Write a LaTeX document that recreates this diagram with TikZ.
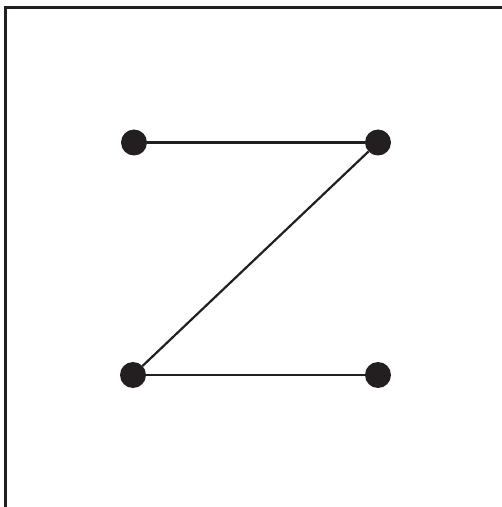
\documentclass[tikz,border=0pt]{standalone}
\usepackage{tikz}
\usetikzlibrary{positioning}
\definecolor{inkcolor}{RGB}{35,31,32}

\begin{document}
\begin{tikzpicture}[x=1pt, y=1pt,
    dot/.style={circle, fill=inkcolor, inner sep=0pt, minimum size=26pt},
    link/.style={line width=2.2pt, inkcolor}]
    \useasboundingbox (0,0) rectangle (502,507);

    % Frame (top and left edges)
    \draw[line width=3pt, inkcolor] (5.5,0) -- (5.5,499) -- (502,499);

    % Dots
    \node[dot] (topleft) at (134,364.5) {};
    \node[dot] (topright) at (378,364.5) {};
    \node[dot] (botleft) at (133,132) {};
    \node[dot] (botright) at (378,132) {};

    % Connecting lines
    \draw[link] (topleft) -- (topright);
    \draw[link] (topright) -- (botleft);
    \draw[link] (botleft) -- (botright);
\end{tikzpicture}
\end{document}
